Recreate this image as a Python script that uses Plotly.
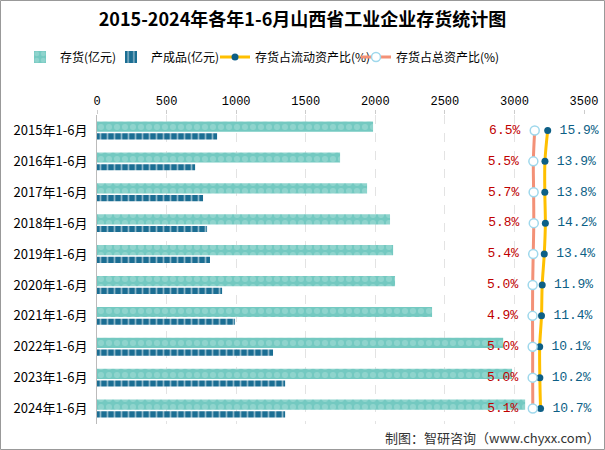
import plotly.graph_objects as go

categories = ["2015年1-6月", "2016年1-6月", "2017年1-6月", "2018年1-6月", "2019年1-6月",
              "2020年1-6月", "2021年1-6月", "2022年1-6月", "2023年1-6月", "2024年1-6月"]
inventory = [1984, 1747, 1941, 2106, 2128, 2142, 2408, 2919, 2983, 3077]
finished = [863, 705, 762, 791, 812, 899, 992, 1265, 1352, 1352]
ratio_current = [15.9, 13.9, 13.8, 14.2, 13.4, 11.9, 11.4, 10.1, 10.2, 10.7]
ratio_total = [6.5, 5.5, 5.7, 5.8, 5.4, 5.0, 4.9, 5.0, 5.0, 5.1]
x_ticks = [0, 500, 1000, 1500, 2000, 2500, 3000, 3500]

FONT = "Noto Sans CJK SC"
MONO = "Liberation Mono"
L, R, T, B = 97, 21, 115, 26
PW, PH = 605 - L - R, 450 - T - B

def px_x(p):
    return (p - L) / PW

def px_y(p):
    return (450 - B - p) / PH

fig = go.Figure()
fig.add_trace(go.Bar(
    name="存货(亿元)", y=categories, x=inventory, orientation="h",
    width=0.33, offset=-0.29, legend="legend",
    marker=dict(color="#74c9c1", line=dict(width=0),
                pattern=dict(shape=".", fgcolor="#a9e0da", size=8, solidity=0.45)),
))
fig.add_trace(go.Bar(
    name="产成品(亿元)", y=categories, x=finished, orientation="h",
    width=0.2, offset=0.09, legend="legend2",
    marker=dict(color="#1b6e93", line=dict(width=0),
                pattern=dict(shape="|", fgcolor="#ffffff", size=7, solidity=0.25)),
))
fig.add_trace(go.Scatter(
    name="存货占流动资产比(%)", y=categories, x=ratio_current, xaxis="x2", legend="legend3",
    mode="lines+markers+text", line=dict(color="#ffc000", width=3, shape="spline"),
    marker=dict(color="#0d5f86", size=7), cliponaxis=False,
    text=[f"\u2002{v:.1f}%" for v in ratio_current], textposition="middle right",
    textfont=dict(color="#0d5f86", size=13, family=MONO),
))
fig.add_trace(go.Scatter(
    name="存货占总资产比(%)", y=categories, x=ratio_total, xaxis="x2", legend="legend4",
    mode="lines+markers+text", line=dict(color="#f39177", width=3, shape="spline"),
    marker=dict(color="#ffffff", size=9, line=dict(color="#9fd8ec", width=1.5)), cliponaxis=False,
    text=[f"{v:.1f}% " for v in ratio_total], textposition="middle left",
    textfont=dict(color="#c00000", size=13, family=MONO),
))

legend_common = dict(orientation="h", yanchor="middle", xanchor="left", y=px_y(57),
                     font=dict(size=12, family=FONT), bgcolor="rgba(0,0,0,0)", itemwidth=30)

fig.update_layout(
    width=605, height=450,
    margin=dict(l=L, r=R, t=T, b=B, autoexpand=False),
    paper_bgcolor="white", plot_bgcolor="white",
    font=dict(family=FONT, size=12, color="#000000"),
    barmode="overlay",
    showlegend=True,
    title=dict(text="<b>2015-2024年各年1-6月山西省工业企业存货统计图</b>",
               x=0.5, xanchor="center", y=1 - 20 / 450, yanchor="middle",
               font=dict(family=FONT, size=18, color="#000000")),
    legend=dict(legend_common, x=px_x(20)),
    legend2=dict(legend_common, x=px_x(111)),
    legend3=dict(legend_common, x=px_x(215)),
    legend4=dict(legend_common, x=px_x(356)),
    xaxis=dict(side="top", range=[0, 3500], tickvals=x_ticks, ticktext=[str(t) for t in x_ticks],
               showgrid=True, gridcolor="#e3e3e3", griddash="dash", gridwidth=1,
               zeroline=False, showline=False, ticks="outside", ticklen=4, tickcolor="#cccccc",
               tickfont=dict(size=12, family=MONO)),
    xaxis2=dict(overlaying="x", side="bottom", range=[-310.7, 42.2], visible=False),
    yaxis=dict(range=[len(categories) - 0.5, -0.5], autorange=False,
               showline=True, linecolor="#bbbbbb", linewidth=1,
               ticks="", tickfont=dict(size=13), showgrid=False, ticklabelstandoff=6),
    annotations=[dict(text="制图：智研咨询（www.chyxx.com）", xref="paper", yref="paper",
                      x=px_x(602), y=px_y(437), xanchor="right", yanchor="middle", showarrow=False,
                      font=dict(size=13, color="#333333"))],
    shapes=[dict(type="rect", xref="paper", yref="paper",
                 x0=px_x(0.5), x1=px_x(604.5), y0=px_y(449.5), y1=px_y(0.5),
                 line=dict(color="#999999", width=1))],
)

fig.write_html("out.html", config={"displayModeBar": False},
               post_script="document.body.style.margin='0';document.body.style.overflow='hidden';")
